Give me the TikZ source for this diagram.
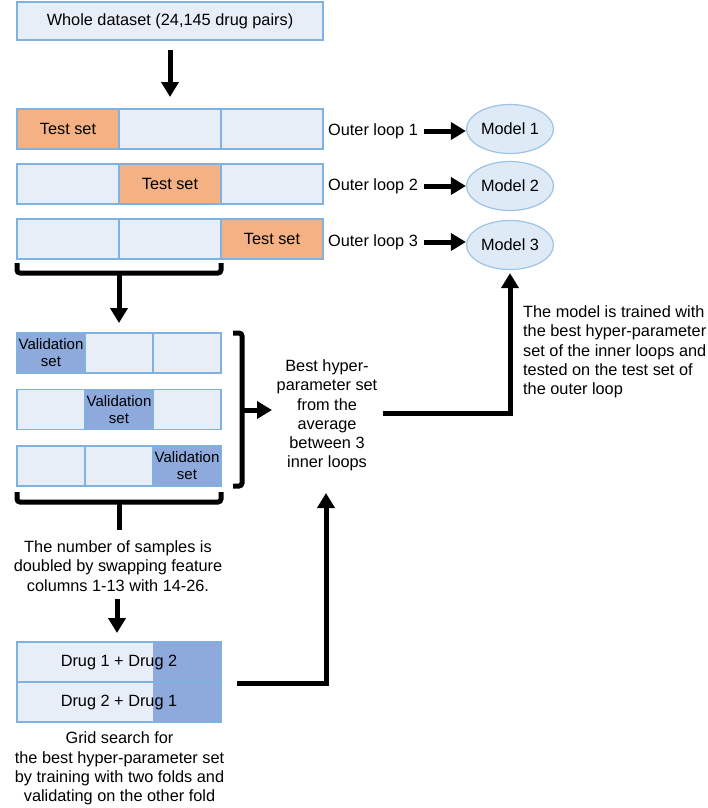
\documentclass[tikz,border=0pt]{standalone}
\usepackage{fontspec}
\setmainfont{Liberation Sans}
\usetikzlibrary{arrows.meta,shapes.geometric}
\definecolor{cellfill}{HTML}{E8EEF7}
\definecolor{cellline}{HTML}{7FB2E0}
\definecolor{testfill}{HTML}{F4B183}
\definecolor{valfill}{HTML}{8EA9DB}
\definecolor{modfill}{HTML}{DEEAF6}
\definecolor{modline}{HTML}{9DC3E6}
\begin{document}
\begin{tikzpicture}[x=1pt,y=-1pt,
  font=\fontsize{16.3}{19.3}\selectfont,
  cell/.style={draw=cellline, line width=1.5pt, fill=cellfill, minimum height=40pt, inner sep=0pt, outer sep=0pt, align=center},
  ocell/.style={cell, minimum width=102pt},
  icell/.style={cell, minimum width=68pt, font=\fontsize{15}{17}\selectfont},
  testc/.style={fill=testfill},
  valc/.style={fill=valfill},
  drugbox/.style={cell, minimum width=204pt, path picture={\fill[valfill] ([xshift=-68pt]path picture bounding box.north east) rectangle (path picture bounding box.south east);}},
  boxline/.style={draw=cellline, line width=1.5pt},
  model/.style={ellipse, draw=modline, line width=1.2pt, fill=modfill, minimum width=87pt, minimum height=49pt, inner sep=0pt},
  arr/.style={line width=5pt, -{Triangle[width=17pt,length=15pt]}},
  brk/.style={line width=5pt, rounded corners=3pt},
  plain/.style={inner sep=0pt, align=center}]
\useasboundingbox (0,0) rectangle (708,808);

% whole dataset
\node[cell, minimum width=306pt, minimum height=38pt] (whole) at (170,21) {Whole dataset (24,145 drug pairs)};

% outer rows
\node[ocell,testc] (o11) at (68,129) {Test set};
\node[ocell] (o12) at (170,129) {};
\node[ocell] (o13) at (272,129) {};
\node[ocell] (o21) at (68,184) {};
\node[ocell,testc] (o22) at (170,184) {Test set};
\node[ocell] (o23) at (272,184) {};
\node[ocell] (o31) at (68,239) {};
\node[ocell] (o32) at (170,239) {};
\node[ocell,testc] (o33) at (272,239) {Test set};

\draw[arr, shorten <=10pt, shorten >=12pt] (whole.south -| o12.north) -- (o12.north);

% outer loop labels and models
\node[plain, anchor=west] (l1) at (328,131) {Outer loop 1};
\node[plain, anchor=west] (l2) at (328,186) {Outer loop 2};
\node[plain, anchor=west] (l3) at (328,242) {Outer loop 3};
\node[model] (m1) at (510,129) {Model 1};
\node[model] (m2) at (510,186) {Model 2};
\node[model] (m3) at (510,245) {Model 3};
\draw[arr, shorten <=6pt] (l1.east) -- (l1.east -| m1.west);
\draw[arr, shorten <=6pt] (l2.east) -- (l2.east -| m2.west);
\draw[arr, shorten <=6pt] (l3.east) -- (l3.east -| m3.west);

% bracket under outer rows
\coordinate (obk) at (119,273);
\draw[brk] (17,263) -- (17,273) -- (221,273) -- (221,263);

% inner rows
\node[icell] (i12) at (119,353) {};
\node[icell] (i13) at (187,353) {};
\node[icell,valc] (i11) at (51,353) {Validation\\set};
\node[icell] (i21) at (51,409.5) {};
\node[icell] (i23) at (187,409.5) {};
\node[icell,valc] (i22) at (119,409.5) {Validation\\set};
\node[icell] (i31) at (51,466) {};
\node[icell] (i32) at (119,466) {};
\node[icell,valc] (i33) at (187,466) {Validation\\set};

\draw[arr, shorten >=10pt] (obk) -- (i12.north);

% right bracket
\draw[brk] (233,333) -- (242,333) -- (242,486) -- (233,486);
\coordinate (rbk) at (242,410);
\coordinate (bestin) at (272,410);
\draw[arr] (rbk) -- (bestin);

% best hyper-parameter text
\node[plain] (best) at (327,415.5) {Best hyper-\\parameter set\\from the\\average\\between 3\\inner loops};

% bottom bracket
\draw[brk] (17,492) -- (17,502) -- (221,502) -- (221,492);
\coordinate (bbk) at (119,502);
\coordinate (bbkend) at (119,530);
\draw[line width=5pt] (bbk) -- (bbkend);

\node[plain] (swap) at (118,566) {The number of samples is\\doubled by swapping feature\\columns 1-13 with 14-26.};

% drug boxes
\node[drugbox] (d1) at (119,662) {Drug 1 + Drug 2};
\node[drugbox] (d2) at (119,702) {Drug 2 + Drug 1};
\draw[boxline] (d1.north west) rectangle (d2.south east);
\draw[boxline] (d1.south west) -- (d1.south east);

\draw[arr, shorten <=8pt, shorten >=9pt] (swap.south -| 117,0) -- (d1.north -| 117,0);

\node[plain] (grid) at (119.5,768.5) {Grid search for\\the best hyper-parameter set\\by training with two folds and\\validating on the other fold};

% connectors to best and to model 3
\coordinate (dout) at (237,683);
\coordinate (bestbot) at (326,493);
\draw[arr] (dout) -| (bestbot);
\coordinate (bestout) at (383,413);
\draw[arr, shorten >=3pt] (bestout) -| (m3.south);

% explanation
\node[inner sep=0pt, anchor=west, align=left] (expl) at (523,352) {The model is trained with\\the best hyper-parameter\\set of the inner loops and\\tested on the test set of\\the outer loop};
\end{tikzpicture}
\end{document}
